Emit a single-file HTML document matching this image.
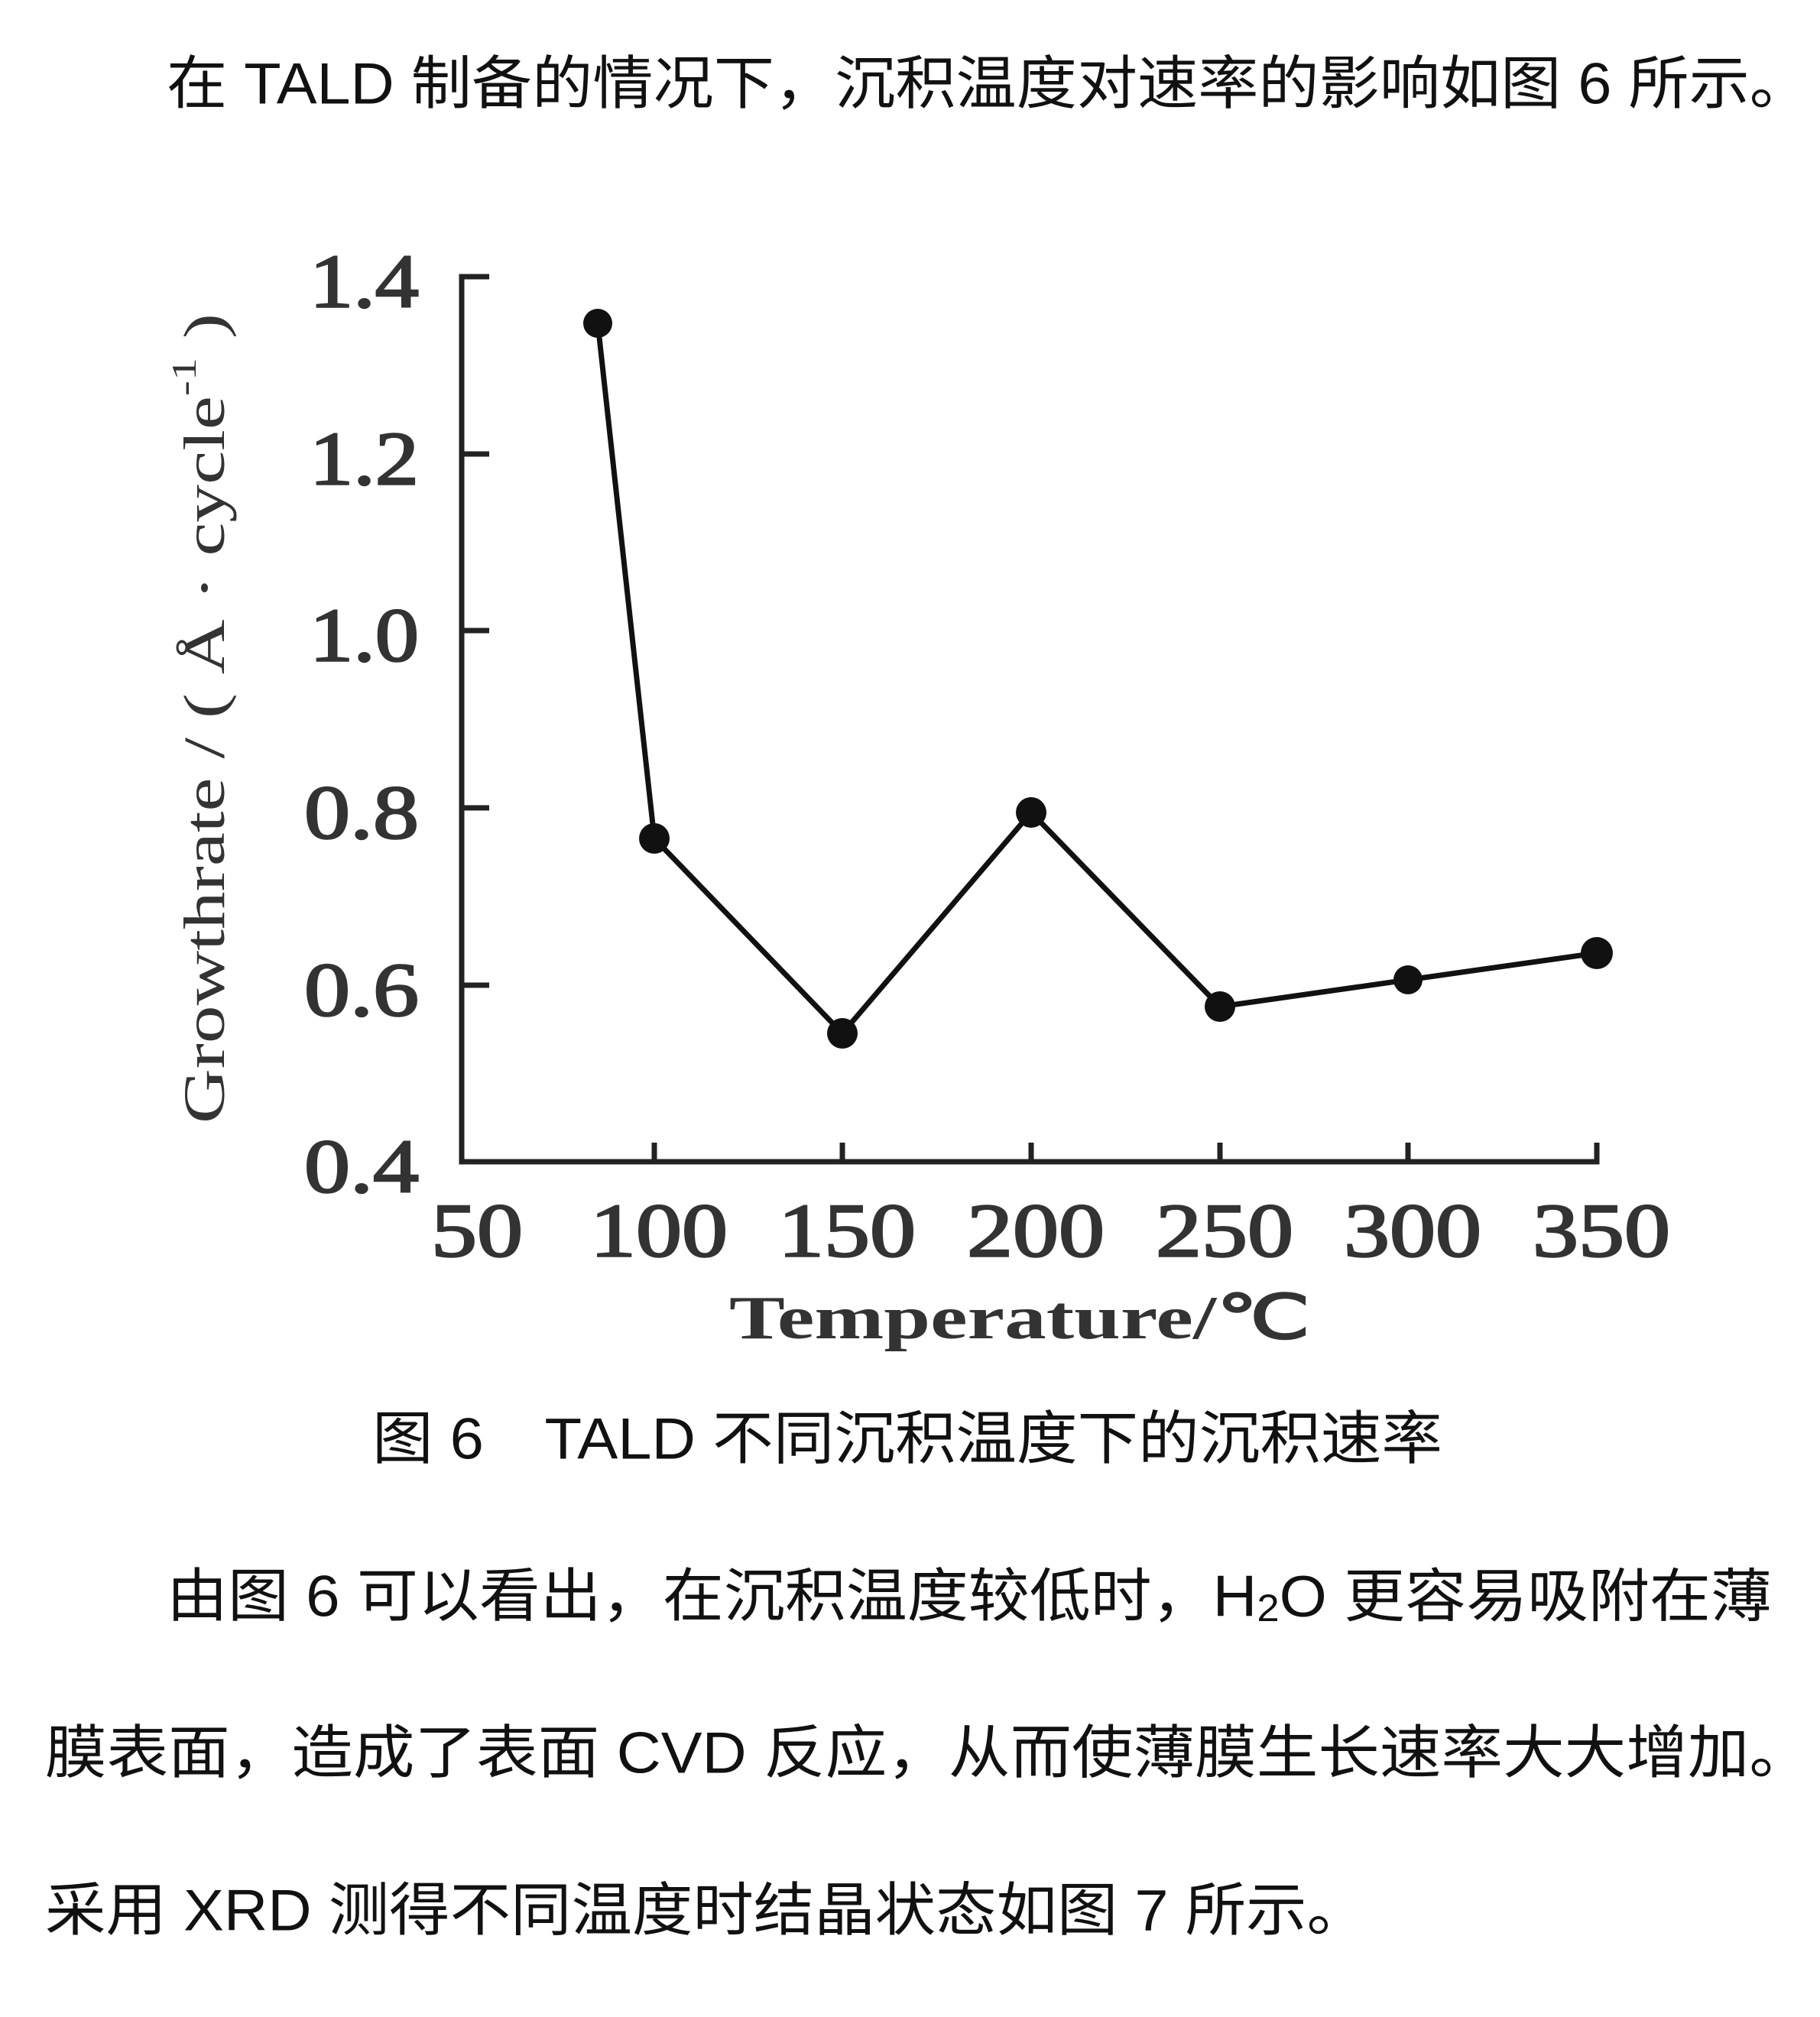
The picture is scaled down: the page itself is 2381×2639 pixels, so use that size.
<!DOCTYPE html>
<html><head><meta charset="utf-8"><style>html,body{margin:0;padding:0;background:#fff}svg{display:block}</style></head>
<body>
<svg width="2381" height="2639" viewBox="0 0 2381 2639" xmlns="http://www.w3.org/2000/svg">
<rect width="2381" height="2639" fill="#fff"/>
<g font-family="'Liberation Sans','Noto Sans CJK SC',sans-serif" font-size="76" fill="#111" dominant-baseline="central">
<text x="218" y="110" textLength="2150" lengthAdjust="spacingAndGlyphs">在 TALD 制备的情况下，沉积温度对速率的影响如图 6 所示。</text>
<text x="487" y="1883" textLength="1400" lengthAdjust="spacingAndGlyphs">图 6　TALD 不同沉积温度下的沉积速率</text>
<text x="218" y="2089" textLength="2100" lengthAdjust="spacingAndGlyphs">由图 6 可以看出，在沉积温度较低时，H<tspan font-size="50" dy="15">2</tspan><tspan dy="-15">O 更容易吸附在薄</tspan></text>
<text x="59" y="2294" textLength="2310" lengthAdjust="spacingAndGlyphs">膜表面，造成了表面  CVD  反应，从而使薄膜生长速率大大增加。</text>
<text x="59" y="2500" textLength="1730" lengthAdjust="spacingAndGlyphs">采用 XRD 测得不同温度时结晶状态如图 7 所示。</text>
</g>
<g stroke="#222" stroke-width="7" fill="none">
<path d="M640,362 L604,362 L604,1520 L2089,1520 L2089,1495"/>
<path d="M604,594 L640,594 M604,825 L640,825 M604,1057 L640,1057 M604,1289 L640,1289"/>
<path d="M856,1520 L856,1495 M1102,1520 L1102,1495 M1349,1520 L1349,1495 M1596,1520 L1596,1495 M1842,1520 L1842,1495"/>
</g>
<polyline fill="none" stroke="#111" stroke-width="7" points="782,423 856,1097 1102,1352 1349,1063 1596,1317 1842,1282 2089,1247"/>
<g fill="#111">
<circle cx="782" cy="423" r="19"/><circle cx="856" cy="1097" r="20"/><circle cx="1102" cy="1352" r="20"/><circle cx="1349" cy="1063" r="20"/><circle cx="1596" cy="1317" r="20"/><circle cx="1842" cy="1282" r="19"/><circle cx="2089" cy="1247" r="21"/>
</g>
<g font-family="'Liberation Serif',serif" font-size="100" fill="#333" stroke="#333" stroke-width="2.5" dominant-baseline="central" text-anchor="end">
<text x="548" y="368" textLength="143" lengthAdjust="spacingAndGlyphs">1.4</text><text x="548" y="600" textLength="143" lengthAdjust="spacingAndGlyphs">1.2</text><text x="548" y="831" textLength="143" lengthAdjust="spacingAndGlyphs">1.0</text><text x="548" y="1063" textLength="150" lengthAdjust="spacingAndGlyphs">0.8</text><text x="548" y="1295" textLength="150" lengthAdjust="spacingAndGlyphs">0.6</text><text x="548" y="1526" textLength="150" lengthAdjust="spacingAndGlyphs">0.4</text>
</g>
<g font-family="'Liberation Serif',serif" font-size="100" fill="#333" stroke="#333" stroke-width="2.5" dominant-baseline="central" text-anchor="middle">
<text x="624" y="1610" textLength="120" lengthAdjust="spacingAndGlyphs">50</text><text x="862" y="1610" textLength="180" lengthAdjust="spacingAndGlyphs">100</text><text x="1108" y="1610" textLength="180" lengthAdjust="spacingAndGlyphs">150</text><text x="1355" y="1610" textLength="180" lengthAdjust="spacingAndGlyphs">200</text><text x="1602" y="1610" textLength="180" lengthAdjust="spacingAndGlyphs">250</text><text x="1848" y="1610" textLength="180" lengthAdjust="spacingAndGlyphs">300</text><text x="2095" y="1610" textLength="180" lengthAdjust="spacingAndGlyphs">350</text>
</g>
<g font-family="'Liberation Serif',serif" font-weight="bold" fill="#333" dominant-baseline="central" text-anchor="middle">
<text x="1334" y="1725" font-size="80" textLength="760" lengthAdjust="spacingAndGlyphs">Temperature/℃</text>
<text transform="translate(268,940) rotate(-90)" font-weight="normal" font-size="76" textLength="1060" lengthAdjust="spacingAndGlyphs">Growthrate / ( Å · cycle<tspan font-size="46" dy="-28">-1</tspan><tspan dy="28"> )</tspan></text>
</g>
</svg>
</body></html>
